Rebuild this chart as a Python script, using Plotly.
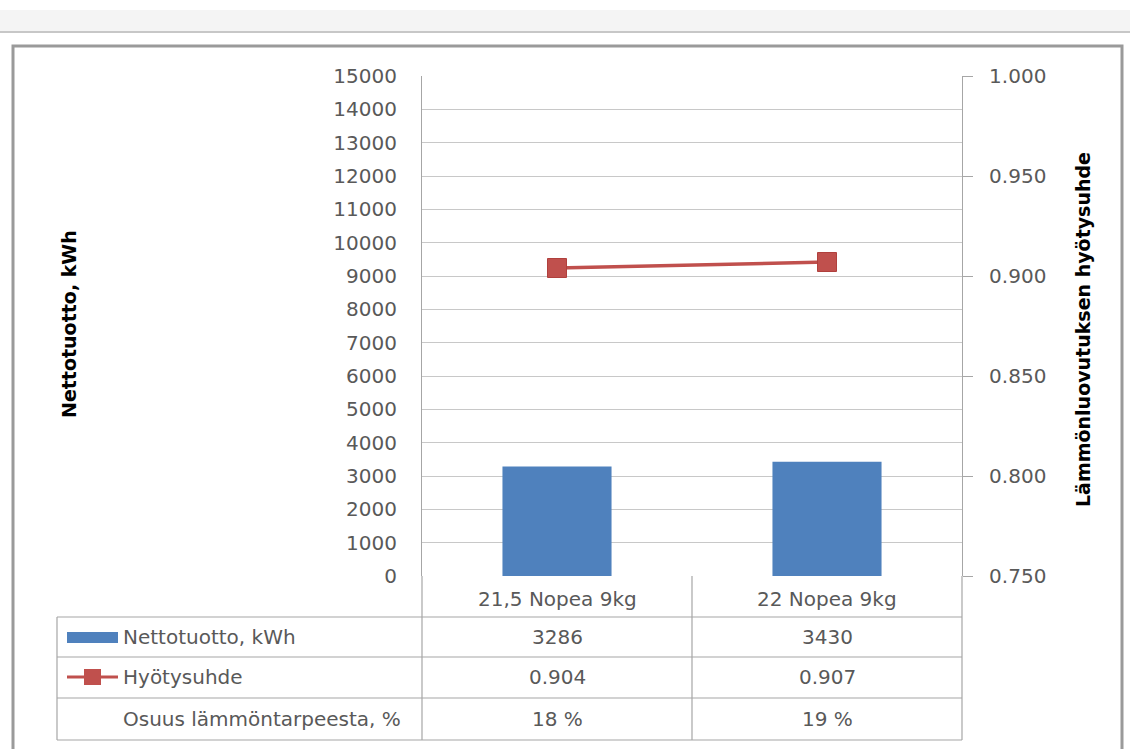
import plotly.graph_objects as go

# ---- data ----
categories = ["21,5 Nopea 9kg", "22 Nopea 9kg"]
nettotuotto = [3286, 3430]
hyotysuhde = [0.904, 0.907]
osuus = [18, 19]
row_labels = ["Nettotuotto, kWh", "Hyötysuhde", "Osuus lämmöntarpeesta, %"]
left_title = "Nettotuotto, kWh"
right_title = "Lämmönluovutuksen hyötysuhde"

W, H = 1130, 749
L, R, T, B = 422, 962, 76, 576  # plot area in pixels


def px(p):
    return (p - L) / (R - L)


def py(p):
    return (B - p) / (B - T)


FONT = "DejaVu Sans"
GRAY = "#595959"
LINE = "#a6a6a6"
BLUE = "#4f81bd"
RED = "#c0504d"

fig = go.Figure()
fig.add_trace(go.Bar(x=categories, y=nettotuotto, name=row_labels[0],
                     marker=dict(color=BLUE, line=dict(width=0)), width=0.404,
                     yaxis="y"))
fig.add_trace(go.Scatter(x=categories, y=hyotysuhde, name=row_labels[1],
                         mode="lines+markers", yaxis="y2",
                         line=dict(color=RED, width=3.5),
                         marker=dict(symbol="square", size=19, color=RED,
                                     line=dict(color="#b0403d", width=1))))

shapes = []
annotations = []

# top strip of the window
shapes.append(dict(type="rect", xref="paper", yref="paper", x0=px(0), x1=px(W),
                   y0=py(10), y1=py(31), fillcolor="#f4f4f4", line=dict(width=0), layer="below"))
shapes.append(dict(type="line", xref="paper", yref="paper", x0=px(0), x1=px(W),
                   y0=py(32), y1=py(32), line=dict(color="#b4b4b4", width=1.5)))
# chart frame
shapes.append(dict(type="rect", xref="paper", yref="paper", x0=px(13), x1=px(1122),
                   y0=py(760), y1=py(46), line=dict(color="#9a9a9a", width=3),
                   fillcolor="rgba(0,0,0,0)", layer="below"))

# data table lines
row_lines = [617, 657, 698, 740]
for yl in row_lines:
    shapes.append(dict(type="line", xref="paper", yref="paper", x0=px(57), x1=px(962),
                       y0=py(yl), y1=py(yl), line=dict(color=LINE, width=1.2)))
shapes.append(dict(type="line", xref="paper", yref="paper", x0=px(57), x1=px(57),
                   y0=py(617), y1=py(740), line=dict(color=LINE, width=1.2)))
for xl in [422, 692, 962]:
    shapes.append(dict(type="line", xref="paper", yref="paper", x0=px(xl), x1=px(xl),
                       y0=py(576), y1=py(740), line=dict(color=LINE, width=1.2)))

# legend keys in table
shapes.append(dict(type="rect", xref="paper", yref="paper", x0=px(67), x1=px(118),
                   y0=py(643), y1=py(632), fillcolor=BLUE, line=dict(width=0)))
shapes.append(dict(type="line", xref="paper", yref="paper", x0=px(67), x1=px(118),
                   y0=py(677), y1=py(677), line=dict(color=RED, width=3)))
shapes.append(dict(type="rect", xref="paper", yref="paper", x0=px(84), x1=px(101),
                   y0=py(685), y1=py(669), fillcolor=RED, line=dict(width=0)))

# header (categories)
for i, c in enumerate(categories):
    annotations.append(dict(x=i, xref="x", y=py(599), yref="paper", text=c,
                            xanchor="center", yanchor="middle",
                            showarrow=False, font=dict(family=FONT, size=20, color=GRAY)))

row_centers = [637, 677, 719]
for lab, yc in zip(row_labels, row_centers):
    annotations.append(dict(x=px(121), xref="paper", y=py(yc), yref="paper", text=lab,
                            xanchor="left", yanchor="middle", showarrow=False,
                            font=dict(family=FONT, size=20, color=GRAY)))
rows = [[str(v) for v in nettotuotto],
        ["%.3f" % v for v in hyotysuhde],
        ["%d %%" % v for v in osuus]]
for r, yc in zip(rows, row_centers):
    for i, v in enumerate(r):
        annotations.append(dict(x=i, xref="x", y=py(yc), yref="paper", text=v,
                                xanchor="center", yanchor="middle",
                                showarrow=False, font=dict(family=FONT, size=20, color=GRAY)))

# axis titles
annotations.append(dict(x=px(69), xref="paper", y=py(324), yref="paper", text="<b>%s</b>" % left_title,
                        xanchor="center", yanchor="middle",
                        textangle=-90, showarrow=False, font=dict(family=FONT, size=19, color="#000000")))
annotations.append(dict(x=px(1083), xref="paper", y=py(330), yref="paper", text="<b>%s</b>" % right_title,
                        xanchor="center", yanchor="middle",
                        textangle=-90, showarrow=False, font=dict(family=FONT, size=19, color="#000000")))

fig.update_layout(
    width=W, height=H, autosize=False,
    margin=dict(l=L, r=W - R, t=T, b=H - B, pad=0),
    paper_bgcolor="white", plot_bgcolor="white",
    showlegend=False,
    barmode="group",
    xaxis=dict(range=[-0.5, 1.5], showticklabels=False, showgrid=False, zeroline=False,
               showline=False, ticks=""),
    yaxis=dict(range=[0, 15000], dtick=1000, showgrid=True, gridcolor="#c8c8c8", gridwidth=1.2,
               zeroline=False, showline=True, linecolor=LINE, linewidth=1.2, ticks="",
               ticklabelstandoff=20, tickformat="d",
               tickfont=dict(family=FONT, size=20, color=GRAY)),
    yaxis2=dict(range=[0.75, 1.0], dtick=0.05, overlaying="y", side="right", showgrid=False,
                zeroline=False, showline=True, linecolor=LINE, linewidth=1.2, ticks="outside",
                ticklen=10, tickcolor=LINE, tickwidth=1.2, tickformat=".3f", ticklabelstandoff=12,
                tickfont=dict(family=FONT, size=20, color=GRAY)),
    shapes=shapes, annotations=annotations,
)

fig.write_html("out.html", config={"displayModeBar": False},
               post_script="document.body.style.margin='0';document.body.style.overflow='hidden';")
